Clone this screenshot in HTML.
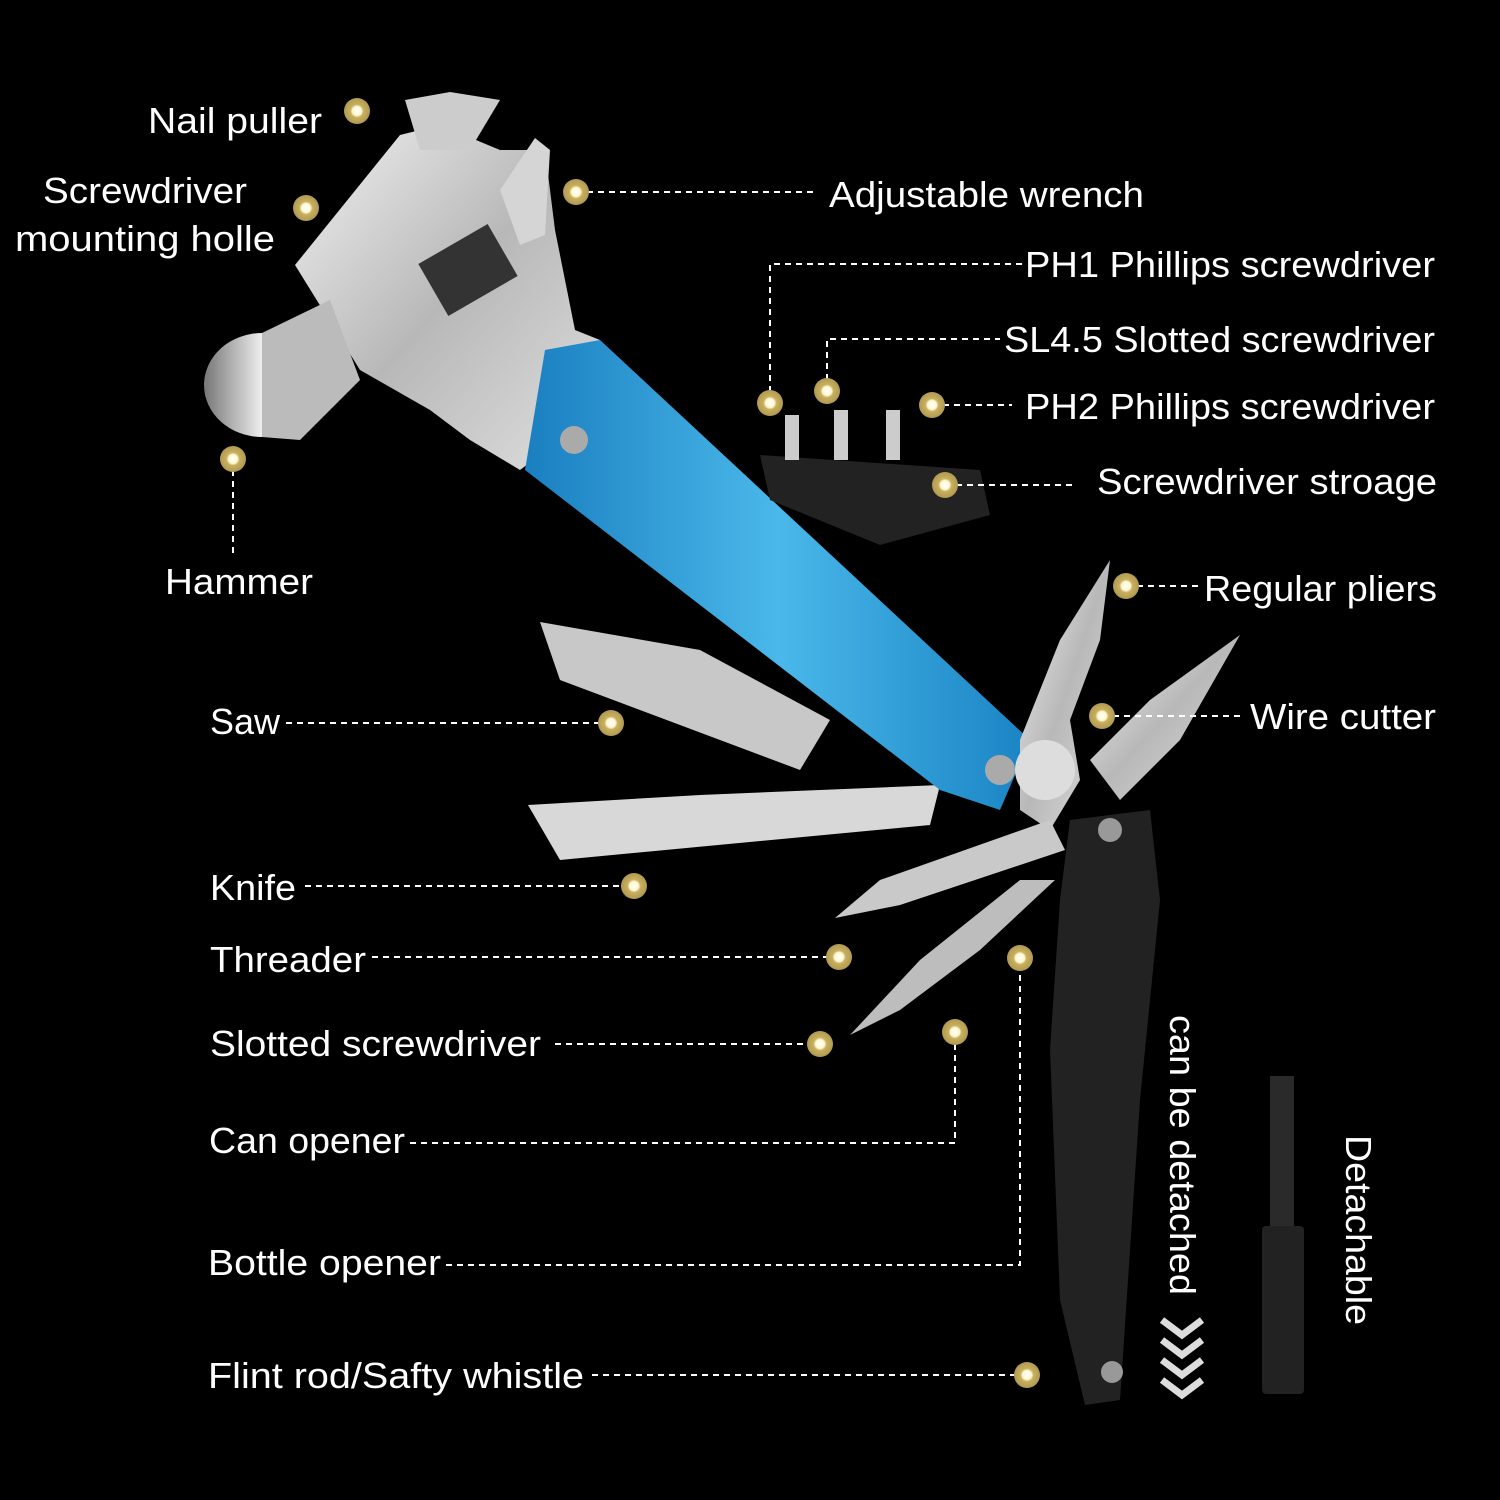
<!DOCTYPE html>
<html><head><meta charset="utf-8"><style>
html,body{margin:0;padding:0;background:#000;}
svg{display:block}
text{font-family:"Liberation Sans",sans-serif;fill:#fff;font-size:36px;}
</style></head><body>
<svg width="1500" height="1500" viewBox="0 0 1500 1500" xmlns="http://www.w3.org/2000/svg">
<defs>
<radialGradient id="dot"><stop offset="0" stop-color="#fff"/><stop offset="0.35" stop-color="#fff8d0"/><stop offset="0.5" stop-color="#c9b060"/><stop offset="1" stop-color="#b09a50"/></radialGradient>
<linearGradient id="steel" x1="0" y1="0" x2="1" y2="1"><stop offset="0" stop-color="#f2f2f2"/><stop offset="0.5" stop-color="#b8b8b8"/><stop offset="1" stop-color="#e0e0e0"/></linearGradient>
<linearGradient id="blue" x1="0" y1="0" x2="1" y2="0"><stop offset="0" stop-color="#1a7fc0"/><stop offset="0.5" stop-color="#4ab8ea"/><stop offset="1" stop-color="#1a84c4"/></linearGradient>
<linearGradient id="head" x1="0" y1="0" x2="1" y2="0"><stop offset="0" stop-color="#777"/><stop offset="0.5" stop-color="#eee"/><stop offset="1" stop-color="#888"/></linearGradient>
</defs>
<polygon points="295,265 400,135 440,125 500,150 545,150 555,230 575,330 600,340 560,440 520,470 470,440 430,410 360,370" fill="url(#steel)"/>
<polygon points="405,100 450,92 500,100 470,150 420,150" fill="#ccc"/>
<polygon points="500,190 535,138 550,150 545,235 520,245" fill="#d5d5d5"/>
<rect x="428" y="240" width="80" height="60" fill="#333" transform="rotate(-30 468 270)"/>
<ellipse cx="262" cy="385" rx="58" ry="52" fill="url(#head)"/>
<polygon points="262,333 330,300 360,380 300,440 262,437" fill="#bbb"/>
<polygon points="540,622 560,680 800,770 830,720 700,650" fill="#c8c8c8"/>
<polygon points="528,805 560,860 930,825 940,785 700,795" fill="#d8d8d8"/>
<polygon points="545,350 600,340 1030,740 1000,810 940,790 525,470" fill="url(#blue)"/>
<circle cx="574" cy="440" r="14" fill="#aaa"/>
<circle cx="1000" cy="770" r="15" fill="#aaa"/>
<polygon points="1020,740 1060,640 1110,560 1100,640 1070,720 1080,780 1050,830 1020,810" fill="url(#steel)"/>
<polygon points="1090,760 1150,700 1240,635 1180,740 1120,800" fill="url(#steel)"/>
<circle cx="1045" cy="770" r="30" fill="#ddd"/>
<polygon points="835,918 880,880 1050,820 1065,850 900,905" fill="#c9c9c9"/>
<polygon points="850,1035 920,960 1020,880 1055,880 980,950 900,1010" fill="#bdbdbd"/>
<polygon points="1070,820 1150,810 1160,900 1140,1100 1120,1400 1085,1405 1060,1300 1050,1050 1060,900" fill="#222"/>
<circle cx="1110" cy="830" r="12" fill="#999"/>
<circle cx="1112" cy="1372" r="11" fill="#999"/>
<polygon points="760,455 980,470 990,515 880,545 770,500" fill="#222"/>
<rect x="785" y="415" width="14" height="45" fill="#ccc"/>
<rect x="834" y="410" width="14" height="50" fill="#ccc"/>
<rect x="886" y="410" width="14" height="50" fill="#ccc"/>
<rect x="1270" y="1076" width="24" height="150" fill="#2a2a2a"/>
<rect x="1262" y="1226" width="42" height="168" rx="4" fill="#222"/>
<g fill="none" stroke="#ddd" stroke-width="7">
<polyline points="1162,1320 1182,1335 1202,1320"/>
<polyline points="1162,1340 1182,1355 1202,1340"/>
<polyline points="1162,1360 1182,1375 1202,1360"/>
<polyline points="1162,1380 1182,1395 1202,1380"/>
</g>
<g fill="none" stroke="#fff" stroke-width="2" stroke-dasharray="6,5">
<polyline points="576,192 815,192"/>
<polyline points="770,403 770,264 1022,264"/>
<polyline points="827,391 827,339 1000,339"/>
<polyline points="932,405 1012,405"/>
<polyline points="945,485 1075,485"/>
<polyline points="233,459 233,555"/>
<polyline points="1126,586 1200,586"/>
<polyline points="1102,716 1245,716"/>
<polyline points="286,723 611,723"/>
<polyline points="305,886 634,886"/>
<polyline points="372,957 839,957"/>
<polyline points="555,1044 820,1044"/>
<polyline points="410,1143 955,1143 955,1032"/>
<polyline points="446,1265 1020,1265 1020,958"/>
<polyline points="592,1375 1027,1375"/>
</g>
<g fill="url(#dot)">
<circle cx="357" cy="111" r="13"/><circle cx="306" cy="208" r="13"/><circle cx="576" cy="192" r="13"/>
<circle cx="770" cy="403" r="13"/><circle cx="827" cy="391" r="13"/><circle cx="932" cy="405" r="13"/>
<circle cx="945" cy="485" r="13"/><circle cx="233" cy="459" r="13"/><circle cx="1126" cy="586" r="13"/>
<circle cx="1102" cy="716" r="13"/><circle cx="611" cy="723" r="13"/><circle cx="634" cy="886" r="13"/>
<circle cx="839" cy="957" r="13"/><circle cx="820" cy="1044" r="13"/><circle cx="955" cy="1032" r="13"/>
<circle cx="1020" cy="958" r="13"/><circle cx="1027" cy="1375" r="13"/>
</g>
<g>
<text x="148" y="133" textLength="174" lengthAdjust="spacingAndGlyphs">Nail puller</text>
<text x="43" y="203" textLength="204" lengthAdjust="spacingAndGlyphs">Screwdriver</text>
<text x="15" y="251" textLength="260" lengthAdjust="spacingAndGlyphs">mounting holle</text>
<text x="829" y="207" textLength="315" lengthAdjust="spacingAndGlyphs">Adjustable wrench</text>
<text x="1025" y="277" textLength="410" lengthAdjust="spacingAndGlyphs">PH1 Phillips screwdriver</text>
<text x="1004" y="352" textLength="431" lengthAdjust="spacingAndGlyphs">SL4.5 Slotted screwdriver</text>
<text x="1025" y="419" textLength="410" lengthAdjust="spacingAndGlyphs">PH2 Phillips screwdriver</text>
<text x="1097" y="494" textLength="340" lengthAdjust="spacingAndGlyphs">Screwdriver stroage</text>
<text x="165" y="594" textLength="148" lengthAdjust="spacingAndGlyphs">Hammer</text>
<text x="1204" y="601" textLength="233" lengthAdjust="spacingAndGlyphs">Regular pliers</text>
<text x="1250" y="729" textLength="186" lengthAdjust="spacingAndGlyphs">Wire cutter</text>
<text x="210" y="734" textLength="70" lengthAdjust="spacingAndGlyphs">Saw</text>
<text x="210" y="900" textLength="86" lengthAdjust="spacingAndGlyphs">Knife</text>
<text x="210" y="972" textLength="156" lengthAdjust="spacingAndGlyphs">Threader</text>
<text x="210" y="1056" textLength="331" lengthAdjust="spacingAndGlyphs">Slotted screwdriver</text>
<text x="209" y="1153" textLength="196" lengthAdjust="spacingAndGlyphs">Can opener</text>
<text x="208" y="1275" textLength="233" lengthAdjust="spacingAndGlyphs">Bottle opener</text>
<text x="208" y="1388" textLength="376" lengthAdjust="spacingAndGlyphs">Flint rod/Safty whistle</text>
<text transform="translate(1170,1015) rotate(90)" textLength="280" lengthAdjust="spacingAndGlyphs">can be detached</text>
<text transform="translate(1346,1135) rotate(90)" textLength="190" lengthAdjust="spacingAndGlyphs">Detachable</text>
</g>
</svg>
</body></html>
